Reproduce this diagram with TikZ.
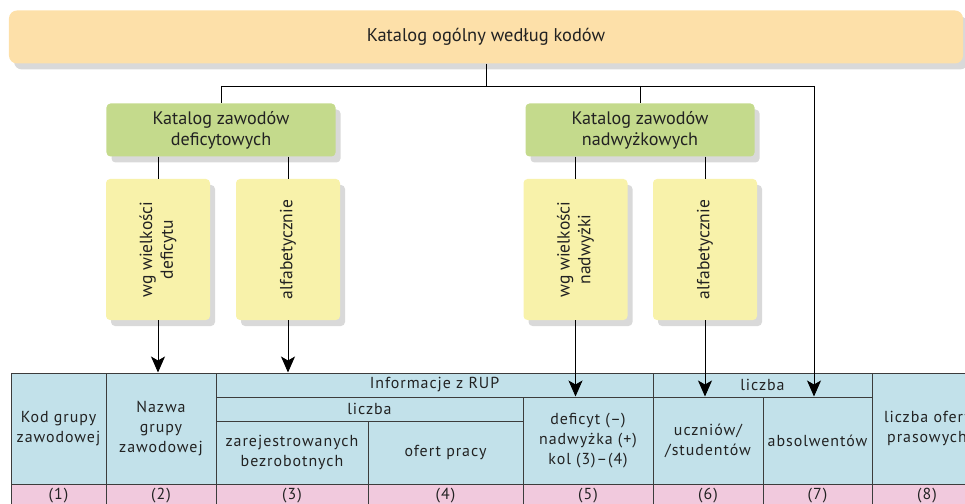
\documentclass[tikz,border=0pt]{standalone}
\usepackage{fontspec}
\setmainfont{PT Sans}
\newfontfamily\tabfont[LetterSpace=6]{PT Sans}
\usetikzlibrary{arrows.meta,shadows}

\definecolor{bannerfill}{HTML}{FDE0A9}
\definecolor{greenfill}{HTML}{C4DA8C}
\definecolor{yellowfill}{HTML}{F8F2AA}
\definecolor{headfill}{HTML}{C2E1EA}
\definecolor{numfill}{HTML}{F1C9DD}
\definecolor{shadowgray}{HTML}{D9D9D9}
\definecolor{gridline}{HTML}{3C3C3C}
\definecolor{inktext}{HTML}{222222}

% one table cell given by its corners
\newcommand\tcell[7]{%
  \node[tcell, fill=#6, minimum width={(#4-#2)*1bp}, minimum height={(#5-#3)*1bp}]
    (#1) at ({(#2+#4)/2},{(#3+#5)/2}) {#7};}

\begin{document}
\begin{tikzpicture}[x=1bp,y=-1bp, text=inktext,
  boxshadow/.style={drop shadow={shadow xshift=5bp, shadow yshift=-6bp, fill=shadowgray, opacity=1}},
  banner/.style={rectangle, rounded corners=8bp, fill=bannerfill, boxshadow,
    minimum width=954bp, minimum height=53bp, inner sep=0pt,
    font=\fontsize{18.5}{21}\selectfont},
  catbox/.style={rectangle, rounded corners=4bp, fill=greenfill, boxshadow,
    minimum width=229bp, minimum height=53bp, inner sep=0pt, align=center,
    font=\fontsize{18.2}{21}\selectfont},
  % drawn turned by 90 degrees, so width and height are swapped
  orderbox/.style={rectangle, rounded corners=4bp, fill=yellowfill, boxshadow,
    minimum width=141bp, minimum height=104bp, inner sep=0pt, align=center,
    font=\fontsize{17.6}{21}\selectfont},
  tcell/.style={rectangle, draw=gridline, line width=1bp, inner sep=0pt, align=center,
    font=\tabfont\fontsize{16}{20}\selectfont},
  link/.style={draw=black, line width=0.9bp},
  arr/.style={link, -{Stealth[length=16bp, width=14bp, inset=4bp]}}
]
\clip (0,0) rectangle (965,504);
\useasboundingbox (0,0) rectangle (965,504);

% catalogue tree
\node[banner] (cat) at (486,37) {Katalog ogólny według kodów};
\node[catbox] (gdef) at (221,130) {Katalog zawodów\\deficytowych};
\node[catbox] (gnad) at (640,130) {Katalog zawodów\\nadwyżkowych};

\node[orderbox, rotate=90] (odef) at (158,249.5) {wg wielkości\\deficytu};
\node[orderbox, rotate=90] (oalf1) at (288,249.5) {alfabetycznie};
\node[orderbox, rotate=90] (onad) at (575.5,249.5) {wg wielkości\\nadwyżki};
\node[orderbox, rotate=90] (oalf2) at (705,249.5) {alfabetycznie};

% table header
\tcell{c1}{11}{373}{106}{484}{headfill}{Kod grupy\\zawodowej}
\tcell{c2}{106}{373}{216}{484}{headfill}{Nazwa\\grupy\\zawodowej}
\tcell{rup}{216}{373}{653}{397}{headfill}{Informacje z RUP}
\tcell{lic1}{216}{397}{523}{421}{headfill}{liczba}
\tcell{c3}{216}{421}{368}{484}{headfill}{zarejestrowanych\\bezrobotnych}
\tcell{c4}{368}{421}{523}{484}{headfill}{ofert pracy}
\tcell{c5}{523}{397}{653}{484}{headfill}{deficyt (–)\\nadwyżka (+)\\kol (3)–(4)}
\tcell{lic2}{653}{373}{872}{397}{headfill}{liczba}
\tcell{c6}{653}{397}{763}{484}{headfill}{uczniów/\\/studentów}
\tcell{c7}{763}{397}{872}{484}{headfill}{absolwentów}
\tcell{c8}{872}{373}{982}{484}{headfill}{liczba ofert\\prasowych}

% column numbers
\tcell{n1}{11}{484}{106}{507}{numfill}{(1)}
\tcell{n2}{106}{484}{216}{507}{numfill}{(2)}
\tcell{n3}{216}{484}{368}{507}{numfill}{(3)}
\tcell{n4}{368}{484}{523}{507}{numfill}{(4)}
\tcell{n5}{523}{484}{653}{507}{numfill}{(5)}
\tcell{n6}{653}{484}{763}{507}{numfill}{(6)}
\tcell{n7}{763}{484}{872}{507}{numfill}{(7)}
\tcell{n8}{872}{484}{982}{507}{numfill}{(8)}

% connectors
\coordinate (bus) at (486,86);
\coordinate (busR) at (814,86);
\path[link] (cat.south) -- (bus);
\path[link] (gdef.north |- bus) -- (busR);
\path[link] (gdef.north |- bus) -- (gdef.north);
\path[link] (gnad.north |- bus) -- (gnad.north);
\path[arr] (busR) -- (busR |- c7.north);

\path[link] (odef.east |- gdef.south) -- (odef.east);
\path[link] (oalf1.east |- gdef.south) -- (oalf1.east);
\path[link] (onad.east |- gnad.south) -- (onad.east);
\path[link] (oalf2.east |- gnad.south) -- (oalf2.east);

\path[arr] (odef.west) -- (odef.west |- c2.north);
\path[arr] (oalf1.west) -- (oalf1.west |- rup.north);
\path[arr] (onad.west) -- (onad.west |- c5.north);
\path[arr] (oalf2.west) -- (oalf2.west |- c6.north);
\end{tikzpicture}
\end{document}
